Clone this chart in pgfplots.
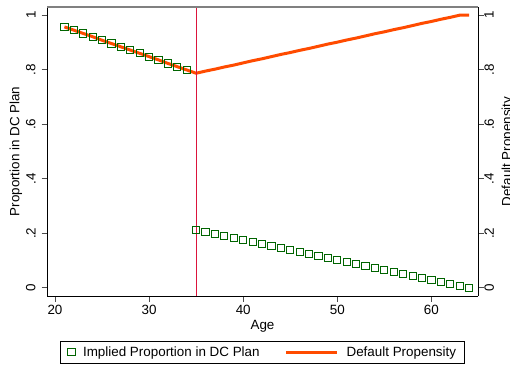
\documentclass[border=0pt]{standalone}
\usepackage{fontspec}
\setmainfont{Liberation Sans}
\usepackage{pgfplots}
\pgfplotsset{compat=1.18}
\usetikzlibrary{calc}
\definecolor{dgreen}{RGB}{0,100,0}
\definecolor{orng}{RGB}{255,75,0}
\definecolor{vred}{RGB}{220,20,60}
\newcommand{\fs}{\fontsize{13.4}{16}\selectfont}
\pgfplotsset{
  sqleg/.code={\pgfplotsset{legend image code/.code={\draw[##1] plot coordinates {(0pt,0pt)};}}},
  lnleg/.code={\pgfplotsset{legend image code/.code={\draw[##1] (0pt,0pt) -- (51pt,0pt);}}},
}
\begin{document}
\fs
\begin{tikzpicture}
\pgfplotsset{
 common/.style={
  scale only axis, width=431pt, height=289pt,
  xmin=19.15, xmax=64.95, ymin=-0.03, ymax=1.03,
  tick align=outside, major tick length=5.5pt,
  /pgf/number format/assume math mode=true,
  tick style={gray!60!black, line width=0.8pt},
  axis line style={black, line width=0.8pt},
  ytick={0,0.2,0.4,0.6,0.8,1}, yticklabels={0,.2,.4,.6,.8,1},
  every tick label/.append style={font=\fs},
  label style={font=\fs},
 }}
\begin{axis}[common, name=ax,
  axis x line*=bottom, axis y line*=left,
  xtick={20,30,40,50,60}, xticklabels={20,30,40,50,60},
  xticklabel style={inner sep=3.5pt},
  yticklabel style={rotate=90, anchor=south, inner sep=5.7pt},
  xlabel={Age}, ylabel={Proportion in DC Plan},
  xlabel style={at={(axis description cs:0.5,0)}, anchor=center, yshift=-30pt},
  ylabel style={at={(axis description cs:0,0.5)}, anchor=center, rotate=0, yshift=31pt},
  legend columns=2,
  legend style={at={(axis description cs:0.5,-0.1557)}, anchor=north,
    draw=black, line width=0.8pt, inner xsep=7.5pt, inner ysep=4pt, font=\fs,
    nodes={inner sep=1pt, anchor=west},
    /tikz/every odd column/.append style={column sep=7pt},
    /tikz/every even column/.append style={column sep=24pt}},
]
\addplot[only marks, mark=square, mark size=3.6pt, dgreen, line width=1pt, sqleg]
  coordinates {
  (21,0.957) (22,0.945) (23,0.933) (24,0.921) (25,0.908) (26,0.896) (27,0.884)
  (28,0.872) (29,0.860) (30,0.848) (31,0.836) (32,0.823) (33,0.811) (34,0.799)
  (35,0.212) (36,0.205) (37,0.197) (38,0.190) (39,0.183) (40,0.175) (41,0.168)
  (42,0.161) (43,0.154) (44,0.146) (45,0.139) (46,0.132) (47,0.124) (48,0.117)
  (49,0.110) (50,0.102) (51,0.095) (52,0.088) (53,0.080) (54,0.073) (55,0.066)
  (56,0.058) (57,0.051) (58,0.044) (59,0.037) (60,0.029) (61,0.022) (62,0.015)
  (63,0.007) (64,0.000)};
\addlegendentry{Implied Proportion in DC Plan}
\addplot[orng, line width=3pt, line join=round, lnleg]
  coordinates {
  (21,0.957) (22,0.945) (23,0.933) (24,0.921) (25,0.908) (26,0.896) (27,0.884)
  (28,0.872) (29,0.860) (30,0.848) (31,0.836) (32,0.823) (33,0.811) (34,0.799)
  (35,0.787) (36,0.795) (37,0.802) (38,0.810) (39,0.817) (40,0.825) (41,0.833)
  (42,0.840) (43,0.848) (44,0.856) (45,0.863) (46,0.871) (47,0.878) (48,0.886)
  (49,0.894) (50,0.901) (51,0.909) (52,0.916) (53,0.924) (54,0.932) (55,0.939)
  (56,0.947) (57,0.954) (58,0.962) (59,0.970) (60,0.977) (61,0.985) (62,0.992)
  (63,1.000) (64,1.000)};
\addlegendentry{Default Propensity}
\addplot[vred, line width=0.9pt, forget plot] coordinates {(35,-0.03) (35,1.03)};
\end{axis}
\begin{axis}[common,
  axis x line=none, axis y line*=right,
  yticklabel style={rotate=90, anchor=north, inner sep=0.8pt},
  ylabel={Default Propensity},
  ylabel style={at={(axis description cs:1,0.5)}, anchor=center, rotate=0, yshift=-30pt},
]
\addplot[draw=none, forget plot] coordinates {(20,0)};
\end{axis}
\draw[gray, line width=1.5pt] (ax.north west) -- (ax.north east);
\pgfresetboundingbox
\path ($(ax.south west)+(-47pt,-73pt)$) rectangle ($(ax.south west)+(463pt,296pt)$);
\end{tikzpicture}
\end{document}
